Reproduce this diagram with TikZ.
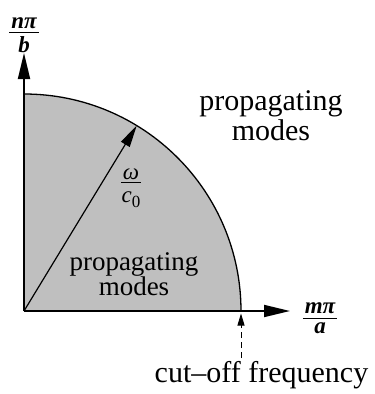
\documentclass[tikz,border=0pt]{standalone}
\usepackage{fontspec}
\setmainfont{Liberation Serif}
\usetikzlibrary{arrows.meta,calc}
% fraction with explicit gaps: #1 gap above bar, #2 gap below bar
\newcommand{\tfr}[4]{\vbox{\halign{\hfil##\hfil\cr \kern2pt#3\kern2pt\cr\noalign{\kern#1\hrule height 1pt\kern#2} #4\cr}}}
\begin{document}
\begin{tikzpicture}[x=1pt,y=-1pt,
  axisarrow/.style={line width=1.8pt,-{Triangle[length=26pt,width=12pt]}},
  radarrow/.style={line width=1.2pt,-{Triangle[length=22pt,width=10pt]}},
  cutarrow/.style={line width=0.8pt,dash pattern=on 6pt off 4pt,-{Triangle[length=12pt,width=7pt]}},
  bigtext/.style={inner sep=0pt,anchor=base,font=\fontsize{30}{30}\selectfont},
  midtext/.style={inner sep=0pt,anchor=base,font=\fontsize{27}{27}\selectfont},
  fractext/.style={inner sep=0pt,font=\fontsize{23}{23}\selectfont}]
\useasboundingbox (0,0) rectangle (375,394);
\coordinate (O) at (24,311);
\coordinate (Ytip) at (24,53);
\coordinate (Xtip) at (290,311);
\coordinate (Top) at ($(O)+(90:217pt)$);
\coordinate (P) at ($(O)+(58.7:217pt)$);
% shaded quarter disc
\fill[black!25] (O) -- (Top) arc[start angle=90,end angle=0,radius=217pt] -- cycle;
\draw[line width=1.3pt] (Top) arc[start angle=90,end angle=0,radius=217pt];
% axes
\draw[axisarrow] (O) -- (Ytip);
\draw[axisarrow] (O) -- (Xtip);
% radius arrow
\draw[radarrow] (O) -- (P);
% labels
\node[fractext] (nb) at (24,35) {\tfr{4pt}{3pt}{\bfseries\itshape nπ}{\bfseries\itshape b}};
\node[fractext] (ma) at (320,318) {\tfr{5pt}{3.5pt}{\bfseries\itshape mπ}{\bfseries\itshape a}};
\node[fractext] (wc) at (131,188) {\tfr{2pt}{9pt}{\itshape ω}{\itshape c\raisebox{-5pt}{\fontsize{17}{17}\selectfont\upshape 0}}};
\node[bigtext] (upA) at (271,110) {propagating};
\node[bigtext] (upB) at (271,140) {modes};
\node[midtext] (loA) at (134,270) {propagating};
\node[midtext] (loB) at (134,295) {modes};
\node[bigtext] (cut) at (261.5,382) {cut–off frequency};
\coordinate (cutstart) at (241,358);
\coordinate (cutend) at (241,313.5);
\draw[cutarrow] (cutstart) -- (cutend);
\end{tikzpicture}
\end{document}
